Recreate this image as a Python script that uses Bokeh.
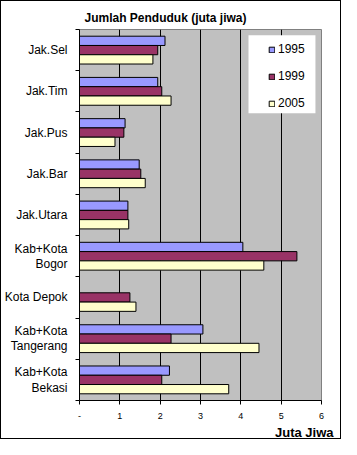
from bokeh.plotting import figure
from bokeh.models import Range1d, FixedTicker, Legend, LegendItem, Title, ColumnDataSource, BoxAnnotation
from bokeh.embed import file_html
from bokeh.resources import INLINE

categories = ["Jak.Sel", "Jak.Tim", "Jak.Pus", "Jak.Bar", "Jak.Utara",
              "Kab+Kota\nBogor", "Kota Depok", "Kab+Kota\nTangerang", "Kab+Kota\nBekasi"]
years = ["1995", "1999", "2005"]
v1995 = [2.12, 1.94, 1.13, 1.48, 1.20, 4.05, 0.0, 3.06, 2.23]
v1999 = [1.94, 2.04, 1.10, 1.52, 1.20, 5.39, 1.25, 2.27, 2.04]
v2005 = [1.82, 2.27, 0.88, 1.63, 1.22, 4.57, 1.40, 4.45, 3.70]
x_ticks = [0, 1, 2, 3, 4, 5, 6]
x_tick_labels = ["-", "1", "2", "3", "4", "5", "6"]

colors = ["#9999FF", "#993366", "#FFFFCC"]
series = [v1995, v1999, v2005]
FONT = "Liberation Sans"

n = len(categories)
centers = [n - 0.5 - i for i in range(n)]

p = figure(width=341, height=439, output_backend="svg", toolbar_location=None,
           x_range=Range1d(0, 6), y_range=Range1d(0, n),
           min_border_left=78, min_border_right=21, min_border_top=28, min_border_bottom=16)
p.styles = {"border": "1px solid black"}
p.background_fill_color = "#C0C0C0"
p.border_fill_color = "white"
p.outline_line_color = "#808080"

bar_h = 0.225
offsets = [bar_h, 0.0, -bar_h]
renderers = []
for vals, col, off in zip(series, colors, offsets):
    src = ColumnDataSource(dict(y=[c + off for c in centers], right=vals))
    r = p.hbar(y="y", right="right", left=0, height=bar_h, source=src,
               fill_color=col, line_color="black", line_width=1)
    renderers.append(r)

# x axis
p.xaxis.ticker = FixedTicker(ticks=x_ticks)
p.xaxis.major_label_overrides = {t: l for t, l in zip(x_ticks, x_tick_labels)}
p.xaxis.axis_line_color = "black"
p.xaxis.major_tick_line_color = "black"
p.xaxis.major_tick_out = 4
p.xaxis.major_tick_in = 0
p.xaxis.minor_tick_line_color = None
p.xaxis.major_label_standoff = 8
p.xaxis.major_label_text_font = FONT
p.xaxis.major_label_text_font_size = "9px"
p.xaxis.major_label_text_color = "black"

# y axis
p.yaxis.ticker = FixedTicker(ticks=centers, minor_ticks=list(range(n + 1)))
p.yaxis.major_label_overrides = {c: lab for c, lab in zip(centers, categories)}
p.yaxis.axis_line_color = "black"
p.yaxis.major_tick_out = 0
p.yaxis.major_tick_in = 0
p.yaxis.minor_tick_line_color = "black"
p.yaxis.minor_tick_out = 4
p.yaxis.minor_tick_in = 0
p.yaxis.major_label_standoff = 8
p.yaxis.major_label_text_font = FONT
p.yaxis.major_label_text_font_size = "12px"
p.yaxis.major_label_text_color = "black"
p.yaxis.major_label_text_line_height = 1.1

p.xgrid.ticker = FixedTicker(ticks=x_ticks[1:-1])
p.xgrid.grid_line_color = "black"
p.xgrid.grid_line_width = 1
p.ygrid.grid_line_color = None

p.title.text = "Jumlah Penduduk (juta jiwa)"
p.title.align = "left"
p.title.offset = 5
p.title.text_font = FONT
p.title.text_font_size = "12px"
p.title.text_font_style = "bold"
p.title.text_color = "black"

p.add_layout(Title(text="Juta Jiwa", align="right", offset=-12, standoff=2, text_font=FONT,
                   text_font_size="13px", text_font_style="bold", text_color="black"), "below")

# white legend panel
p.add_layout(BoxAnnotation(left=4.19, right=5.85, top=8.86, bottom=6.97,
                           fill_color="white", fill_alpha=1.0, line_color=None,
                           level="annotation"))

legend = Legend(items=[LegendItem(label=y, renderers=[r]) for y, r in zip(years, renderers)],
                location="top_right", margin=13, padding=4, spacing=13,
                glyph_width=7, glyph_height=7, label_height=13, label_width=30,
                label_standoff=3, border_line_color=None,
                background_fill_alpha=0.0,
                label_text_font=FONT, label_text_font_size="12px", label_text_color="black")
p.add_layout(legend)

open("out.html", "w").write(file_html(p, INLINE))
